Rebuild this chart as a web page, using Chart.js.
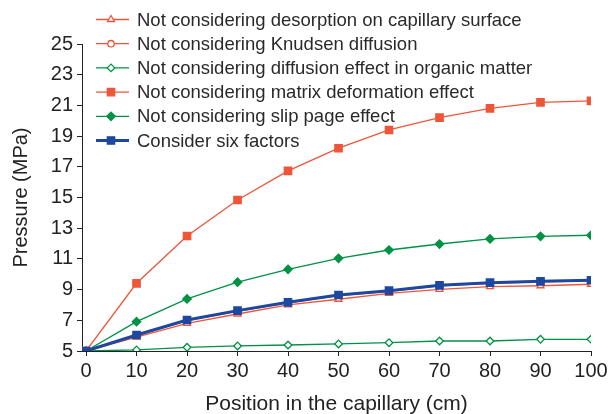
<!DOCTYPE html>
<html>
<head>
<meta charset="utf-8">
<script src="https://cdn.jsdelivr.net/npm/chart.js@4/dist/chart.umd.min.js"></script>
<style>
  html, body { margin: 0; padding: 0; background: #fff; }
  #wrap { width: 613px; height: 414px; position: relative; }
</style>
</head>
<body>
<div id="wrap"><canvas id="pressureChart" width="613" height="414"></canvas></div>
<script>
var positions = [0, 10, 20, 30, 40, 50, 60, 70, 80, 90, 100];
var yTicks = [5, 7, 9, 11, 13, 15, 17, 19, 21, 23, 25];

var noDesorption = [5, 5.91, 6.80, 7.41, 8.00, 8.37, 8.76, 9.02, 9.19, 9.25, 9.35];
var noKnudsen = [5, 6.01, 6.98, 7.59, 8.13, 8.61, 8.89, 9.24, 9.41, 9.50, 9.57];
var noOrganic = [5, 5.07, 5.24, 5.33, 5.39, 5.46, 5.54, 5.65, 5.65, 5.76, 5.76];
var noMatrix = [5, 9.41, 12.49, 14.84, 16.73, 18.21, 19.40, 20.20, 20.81, 21.20, 21.29];
var noSlip = [5, 6.91, 8.39, 9.48, 10.32, 11.04, 11.58, 11.97, 12.30, 12.47, 12.54];
var sixFactors = [5, 6.04, 7.02, 7.63, 8.17, 8.65, 8.93, 9.28, 9.45, 9.54, 9.61];

var RED = 'rgb(238, 86, 58)';
var GREEN = 'rgb(0, 146, 68)';
var BLUE = 'rgb(30, 72, 160)';
var FONT = '"Liberation Sans", Arial, Helvetica, sans-serif';

function pts(values) {
  return values.map(function (v, i) { return { x: positions[i], y: v }; });
}

function series(label, values, color, style, radius, filled, width, order) {
  return {
    label: label,
    data: pts(values),
    borderColor: color,
    backgroundColor: filled ? color : '#fff',
    pointBorderColor: color,
    pointBackgroundColor: filled ? color : '#fff',
    pointStyle: style,
    pointRadius: radius,
    pointBorderWidth: 1.3,
    borderWidth: width,
    tension: 0,
    order: order
  };
}

// legend drawn by hand so it can sit over the top of the plot
var legendBox = {
  id: 'legendBox',
  afterDraw: function (chart) {
    var ctx = chart.ctx;
    ctx.save();
    chart.data.datasets.forEach(function (ds, i) {
      var y = 19.5 + i * 24.2;
      ctx.strokeStyle = ds.borderColor;
      ctx.lineWidth = ds.borderWidth;
      ctx.beginPath();
      ctx.moveTo(96, y);
      ctx.lineTo(129, y);
      ctx.stroke();
      ctx.fillStyle = ds.pointBackgroundColor;
      ctx.strokeStyle = ds.pointBorderColor;
      ctx.lineWidth = ds.pointBorderWidth;
      Chart.helpers.drawPoint(ctx, {
        pointStyle: ds.pointStyle,
        radius: ds.pointRadius,
        rotation: 0,
        borderWidth: ds.pointBorderWidth
      }, 111, y);
      ctx.fillStyle = '#2a2a2a';
      ctx.font = '18.5px ' + FONT;
      ctx.textBaseline = 'middle';
      ctx.textAlign = 'left';
      ctx.fillText(ds.label, 137, y + 1);
    });
    ctx.restore();
  }
};

var ctx = document.getElementById('pressureChart').getContext('2d');
var chart = new Chart(ctx, {
  type: 'line',
  data: {
    datasets: [
      series('Not considering desorption on capillary surface', noDesorption, RED, 'triangle', 4, false, 1.3, 2),
      series('Not considering Knudsen diffusion', noKnudsen, RED, 'circle', 3.2, false, 1.3, 2),
      series('Not considering diffusion effect in organic matter', noOrganic, GREEN, 'rectRot', 3.8, false, 1.3, 1),
      series('Not considering matrix deformation effect', noMatrix, RED, 'rect', 5.2, true, 1.3, 1),
      series('Not considering slip page effect', noSlip, GREEN, 'rectRot', 4.2, true, 1.3, 1),
      series('Consider six factors', sixFactors, BLUE, 'rect', 5.2, true, 3, 0)
    ]
  },
  options: {
    responsive: false,
    animation: false,
    layout: { padding: { left: 0, top: 44, right: 22, bottom: 0 } },
    plugins: {
      legend: { display: false },
      tooltip: { enabled: false }
    },
    scales: {
      x: {
        type: 'linear',
        min: -0.8,
        max: 100,
        afterBuildTicks: function (s) {
          s.ticks = positions.map(function (v) { return { value: v }; });
        },
        afterFit: function (s) { s.height = 414 - 351; },
        ticks: {
          color: '#222',
          font: { family: FONT, size: 20 },
          padding: 3,
          maxRotation: 0,
          autoSkip: false
        },
        grid: { drawOnChartArea: false, drawTicks: true, tickLength: 5, color: '#222' },
        border: { color: '#222', width: 1 },
        title: {
          display: true,
          text: 'Position in the capillary (cm)',
          color: '#222',
          font: { family: FONT, size: 21, lineHeight: 0.9 },
          padding: { top: 0, bottom: 0 }
        }
      },
      y: {
        type: 'linear',
        min: 5,
        max: 25,
        afterBuildTicks: function (s) {
          s.ticks = yTicks.map(function (v) { return { value: v }; });
        },
        afterFit: function (s) { s.width = 82; },
        ticks: {
          color: '#222',
          font: { family: FONT, size: 20 },
          padding: 4
        },
        grid: { drawOnChartArea: false, drawTicks: true, tickLength: 5, color: '#222' },
        border: { color: '#222', width: 1 },
        title: {
          display: true,
          text: 'Pressure (MPa)',
          color: '#222',
          font: { family: FONT, size: 20 },
          padding: { top: 9, bottom: 0 }
        }
      }
    }
  },
  plugins: [legendBox]
});
</script>
</body>
</html>
